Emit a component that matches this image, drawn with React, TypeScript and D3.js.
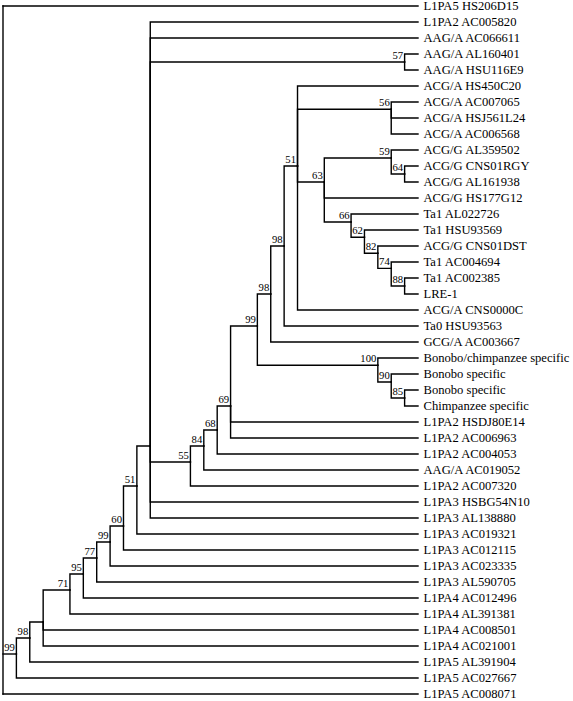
import React from 'react';
import * as d3 from 'd3';

// Leaf (tip) labels, top to bottom
const leafLabels = [
  'L1PA5 HS206D15', 'L1PA2 AC005820', 'AAG/A AC066611', 'AAG/A AL160401', 'AAG/A HSU116E9',
  'ACG/A HS450C20', 'ACG/A AC007065', 'ACG/A HSJ561L24', 'ACG/A AC006568', 'ACG/G AL359502',
  'ACG/G CNS01RGY', 'ACG/G AL161938', 'ACG/G HS177G12', 'Ta1 AL022726', 'Ta1 HSU93569',
  'ACG/G CNS01DST', 'Ta1 AC004694', 'Ta1 AC002385', 'LRE-1', 'ACG/A CNS0000C',
  'Ta0 HSU93563', 'GCG/A AC003667', 'Bonobo/chimpanzee specific', 'Bonobo specific', 'Bonobo specific',
  'Chimpanzee specific', 'L1PA2 HSDJ80E14', 'L1PA2 AC006963', 'L1PA2 AC004053', 'AAG/A AC019052',
  'L1PA2 AC007320', 'L1PA3 HSBG54N10', 'L1PA3 AL138880', 'L1PA3 AC019321', 'L1PA3 AC012115',
  'L1PA3 AC023335', 'L1PA3 AL590705', 'L1PA4 AC012496', 'L1PA4 AL391381', 'L1PA4 AC008501',
  'L1PA4 AC021001', 'L1PA5 AL391904', 'L1PA5 AC027667', 'L1PA5 AC008071',
];

// Parent clade of each leaf
const leafParents = [
  'root', 'J', 'J', 'n57', 'n57',
  'n51b', 'n56', 'n56', 'n56', 'n59',
  'n64', 'n64', 'n63', 'n66', 'n62',
  'n82', 'n74', 'n88', 'n88', 'n51b',
  'n98b', 'n98a', 'n100', 'n90', 'n85',
  'n85', 'n69', 'n69', 'n68', 'n84',
  'n55', 'J', 'J', 'I', 'H',
  'G', 'F', 'E', 'D', 'C',
  'C', 'B', 'A', 'root',
];

// Internal nodes
const nodeIds = ['root', 'A', 'B', 'C', 'D', 'E', 'F', 'G', 'H', 'I', 'J', 'n57', 'n55', 'n84', 'n68', 'n69', 'n99b', 'n98a', 'n98b', 'n51b', 'n56', 'n63', 'n59', 'n64', 'n66', 'n62', 'n82', 'n74', 'n88', 'n100', 'n90', 'n85'];
const nodeParents = [null, 'root', 'A', 'B', 'C', 'D', 'E', 'F', 'G', 'H', 'I', 'J', 'J', 'n55', 'n84', 'n68', 'n69', 'n99b', 'n98a', 'n98b', 'n51b', 'n51b', 'n63', 'n59', 'n63', 'n66', 'n62', 'n82', 'n74', 'n99b', 'n100', 'n90'];
// distance from root, in branch steps
const nodeDepths = [0, 1, 2, 3, 5, 6, 7, 8, 9, 10, 11, 30, 14, 15, 16, 17, 19, 20, 21, 22, 29, 24, 29, 30, 26, 27, 28, 29, 30, 28, 29, 30];
// vertical position, in leaf rows
const nodeRows = [0, 40.5, 39.5, 38.5, 36.5, 35.5, 34.5, 33.5, 32.5, 30, 27.5, 3.5, 28.5, 27.5, 26.5, 25, 20, 18, 15, 10, 6.45, 11, 9.5, 10.5, 13.5, 14.45, 15.45, 16.4, 17.5, 22.45, 23.5, 24.5];
// bootstrap support
const nodeSupport = ['', '99', '98', '', '71', '95', '77', '99', '60', '51', '', '57', '55', '84', '68', '69', '99', '98', '98', '51', '56', '63', '59', '64', '66', '62', '82', '74', '88', '100', '90', '85'];

const TIP_DEPTH = 31;

const W = 573;
const H = 701;

type Row = { id: string; parent: string | null; depth: number; row: number; support: string; label: string; leaf: boolean };

export default function App() {
  const table: Row[] = [
    ...nodeIds.map((id, i) => ({ id, parent: nodeParents[i], depth: nodeDepths[i], row: nodeRows[i], support: nodeSupport[i], label: '', leaf: false })),
    ...leafLabels.map((label, i) => ({ id: 'leaf' + i, parent: leafParents[i], depth: TIP_DEPTH, row: i, support: '', label, leaf: true })),
  ];
  const root = d3.stratify<Row>().id(d => d.id).parentId(d => d.parent)(table);

  const x = d3.scaleLinear().domain([0, TIP_DEPTH]).range([3, 418]);
  const y = d3.scaleLinear().domain([0, leafLabels.length - 1]).range([6, 694]);

  const links = root.links();
  const nodes = root.descendants();

  const linkPath = (l: d3.HierarchyLink<Row>) => {
    const px = x(l.source.data.depth);
    const py = y(l.source.data.row);
    const cx = x(l.target.data.depth);
    const cy = y(l.target.data.row);
    const pStart = l.source.data.id === 'root' ? cy : py;
    return `M${px},${pStart}V${cy}H${cx}`;
  };

  // root vertical spans its children
  const rootKids = root.children || [];
  const rootYs = rootKids.map(c => y(c.data.row));

  return (
    <svg width={W} height={H} style={{ position: 'absolute', left: 0, top: 0, background: '#fff' }}>
      <rect width={W} height={H} fill="#fff" />
      <g fill="none" stroke="#000" strokeWidth={1.4} strokeLinecap="square">
        <line x1={x(0)} x2={x(0)} y1={d3.min(rootYs)} y2={d3.max(rootYs)} />
        {links.map((l, i) => (
          <path key={i} d={linkPath(l)} />
        ))}
      </g>
      <g fontFamily="'Liberation Serif', 'Times New Roman', serif" fill="#000">
        {nodes.filter(n => n.data.leaf).map((n, i) => (
          <text key={'l' + i} x={x(n.data.depth) + 5.5} y={y(n.data.row)} dy="0.35em" fontSize={12.6}>
            {n.data.label}
          </text>
        ))}
        {nodes.filter(n => !n.data.leaf && n.data.support).map((n, i) => (
          <text key={'s' + i} x={x(n.data.depth) - 1.5} y={y(n.data.row) - 3.5} textAnchor="end" fontSize={10.7}>
            {n.data.support}
          </text>
        ))}
      </g>
    </svg>
  );
}
